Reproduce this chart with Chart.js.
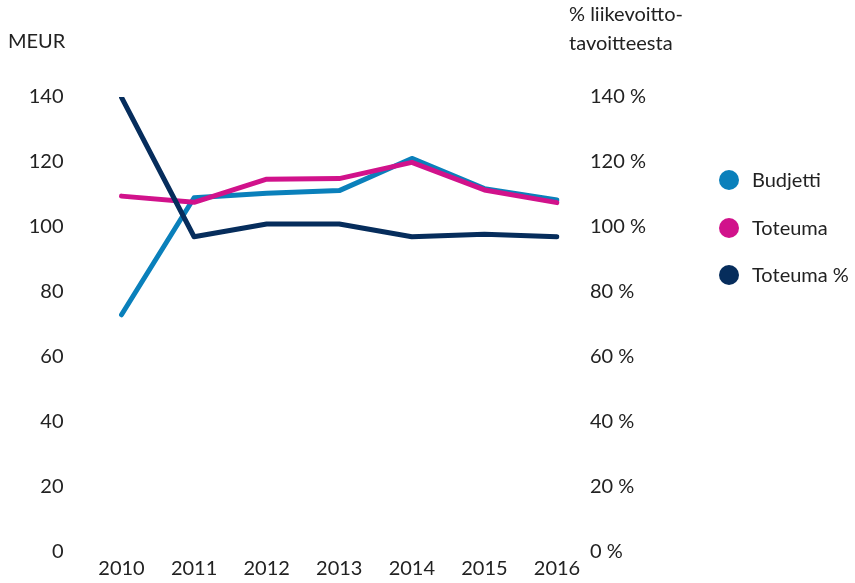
<!DOCTYPE html>
<html>
<head>
<meta charset="utf-8">
<script src="https://cdn.jsdelivr.net/npm/chart.js@4"></script>
<style>
  html, body { margin: 0; padding: 0; background: #fff; }
  #wrap { width: 855px; height: 583px; }
</style>
</head>
<body>
<div id="wrap"><canvas id="chart" width="855" height="583"></canvas></div>
<script>
const years = ['2010', '2011', '2012', '2013', '2014', '2015', '2016'];
const budjetti = [73, 109, 110.4, 111.2, 121.1, 111.8, 108.3];
const toteuma = [109.5, 107.6, 114.7, 114.9, 119.9, 111.4, 107.5];
const toteumaPct = [139.9, 97, 100.9, 100.9, 97, 97.8, 97];
const seriesNames = ['Budjetti', 'Toteuma', 'Toteuma %'];
const leftTitle = 'MEUR';
const rightTitle = ['% liikevoitto-', 'tavoitteesta'];

const textColor = '#222';
const fontFamily = 'Lato, "Open Sans", sans-serif';

// titles and legend drawn by hand so they sit where the original has them
const extras = {
    id: 'extras',
    afterDraw(chart) {
        const c = chart.ctx;
        c.save();
        c.fillStyle = textColor;
        c.font = '20px ' + fontFamily;
        c.textBaseline = 'middle';
        c.textAlign = 'left';
        c.fillText(leftTitle, 8, 42);
        c.fillText(rightTitle[0], 569, 15);
        c.fillText(rightTitle[1], 569, 44);
        const ys = [180, 228, 275];
        chart.data.datasets.forEach((ds, i) => {
            c.beginPath();
            c.fillStyle = ds.borderColor;
            c.arc(729, ys[i], 10, 0, Math.PI * 2);
            c.fill();
            c.fillStyle = textColor;
            c.fillText(ds.label, 752, ys[i] + 1);
        });
        c.restore();
    }
};

// fixed axis sizes; drop the label padding the y axes ask of the layout
function fixY(width) {
    return s => {
        s.width = width;
        s.paddingTop = 0;
        s.paddingBottom = 0;
    };
}

const data = {
    labels: years,
    datasets: [
        {
            label: seriesNames[0],
            data: budjetti,
            borderColor: '#0a80bb',
            yAxisID: 'y',
            order: 3,
        },
        {
            label: seriesNames[1],
            data: toteuma,
            borderColor: '#d1128b',
            yAxisID: 'y',
            order: 2,
        },
        {
            label: seriesNames[2],
            data: toteumaPct,
            borderColor: '#062d5c',
            yAxisID: 'y1',
            order: 1,
        }
    ]
};

const config = {
    type: 'line',
    data: data,
    options: {
        responsive: false,
        animation: false,
        layout: { padding: { top: 97, left: 0, right: 0, bottom: 0 } },
        elements: {
            line: { borderWidth: 5, tension: 0, borderCapStyle: 'round', borderJoinStyle: 'round' },
            point: { radius: 0 }
        },
        plugins: {
            legend: { display: false },
            tooltip: { enabled: false }
        },
        scales: {
            x: {
                grid: { display: false, drawTicks: false },
                border: { display: false },
                ticks: { color: textColor, font: { size: 20, family: fontFamily }, padding: 5, maxRotation: 0 },
                afterFit(s) { s.height = 31; }
            },
            y: {
                position: 'left',
                min: 0, max: 140,
                grid: { display: false, drawTicks: false },
                border: { display: false },
                ticks: { stepSize: 20, color: textColor, font: { size: 20, family: fontFamily }, padding: 58 },
                afterFit: fixY(121.5)
            },
            y1: {
                position: 'right',
                min: 0, max: 140,
                grid: { display: false, drawTicks: false },
                border: { display: false },
                ticks: {
                    stepSize: 20, color: textColor, font: { size: 20, family: fontFamily }, padding: 33,
                    callback: v => v + ' %'
                },
                afterFit: fixY(298)
            }
        }
    },
    plugins: [extras]
};

const ctx = document.getElementById('chart').getContext('2d');
new Chart(ctx, config);
</script>
</body>
</html>
